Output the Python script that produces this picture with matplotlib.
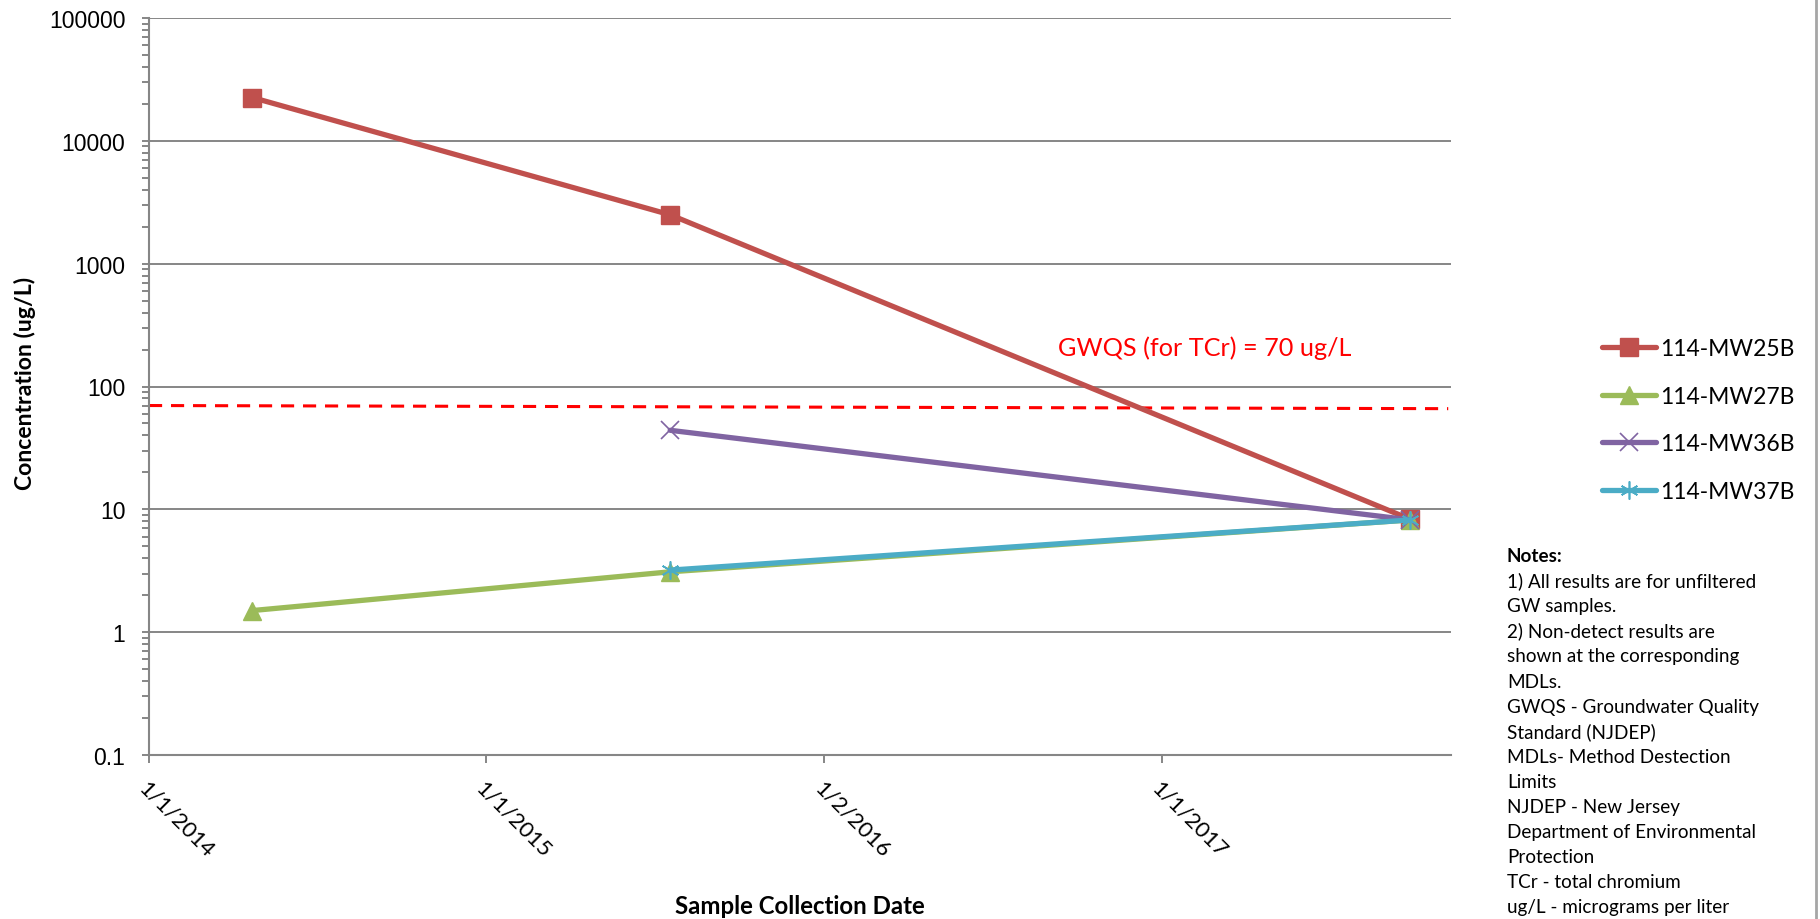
import numpy as np
import pandas as pd
import matplotlib
matplotlib.use("Agg")
import matplotlib.pyplot as plt
import matplotlib.dates as mdates
from matplotlib.lines import Line2D

## data
dates_a = pd.to_datetime(["2014-04-23", "2015-07-19", "2017-09-27"])
dates_b = pd.to_datetime(["2015-07-19", "2017-09-27"])
mw25b = [22500, 2500, 8.3]
mw27b = [1.5, 3.1, 8.2]
mw36b = [44, 8.2]
mw37b = [3.2, 8.2]
labels = ["114-MW25B", "114-MW27B", "114-MW36B", "114-MW37B"]

gwqs_dates = pd.to_datetime(["2014-01-01", "2017-11-07"])
gwqs_vals = [70, 66]

xtick_dates = pd.to_datetime(["2014-01-01", "2015-01-01", "2016-01-02", "2017-01-01"])
xtick_labels = ["1/1/2014", "1/1/2015", "1/2/2016", "1/1/2017"]
ytick_vals = [0.1, 1, 10, 100, 1000, 10000, 100000]
ytick_labels = ["0.1", "1", "10", "100", "1000", "10000", "100000"]
xlim = pd.to_datetime(["2014-01-01", "2017-11-10"])

notes_title = "Notes:"
notes_lines = ["1) All results are for unfiltered", "GW samples.",
               "2) Non-detect results are", "shown at the corresponding", "MDLs.",
               "GWQS - Groundwater Quality", "Standard (NJDEP)",
               "MDLs- Method Destection", "Limits",
               "NJDEP - New Jersey", "Department of Environmental", "Protection",
               "TCr - total chromium", "ug/L - micrograms per liter"]

W, H = 1820, 920
grey = "#868686"
txtfont = "Lato"

fig = plt.figure(figsize=(W / 100, H / 100), dpi=100)
ax = fig.add_axes([149 / W, 1 - 756 / H, (1451 - 149) / W, (756 - 19) / H])

ax.plot(gwqs_dates, gwqs_vals, color="#FF0000", lw=2.2, dashes=(4.3, 2.9), zorder=2)

lw = 3.8
ax.plot(dates_a, mw25b, color="#C0504D", lw=lw, marker="s", ms=13.5,
        solid_capstyle="round", label=labels[0], zorder=3)
ax.plot(dates_a, mw27b, color="#9BBB59", lw=lw, marker="^", ms=13.5,
        solid_capstyle="round", label=labels[1], zorder=4)
ax.plot(dates_b, mw36b, color="#8064A2", lw=lw, marker="x", ms=13.5, mew=1.2,
        solid_capstyle="round", label=labels[2], zorder=5)
ax.plot(dates_b, mw37b, color="#4BACC6", lw=lw, marker=(6, 2, 0), ms=13, mew=1.2,
        solid_capstyle="round", label=labels[3], zorder=6)

ax.set_yscale("log")
ax.set_ylim(0.1, 100000)
ax.set_xlim(xlim[0], xlim[1])
ax.set_yticks(ytick_vals)
ax.set_yticklabels(ytick_labels, family="Liberation Sans", fontsize=16.5)
ax.yaxis.set_minor_locator(matplotlib.ticker.LogLocator(base=10, subs=np.arange(2, 10)))
ax.yaxis.set_minor_formatter(matplotlib.ticker.NullFormatter())
ax.set_xticks(mdates.date2num(xtick_dates))
ax.set_xticklabels(xtick_labels, family=txtfont, fontsize=16, rotation=-45,
                   ha="left", va="top", rotation_mode="anchor")

ax.grid(axis="y", which="major", color=grey, lw=1.4)
ax.set_axisbelow(True)
for s in ["top", "right"]:
    ax.spines[s].set_visible(False)
for s in ["left", "bottom"]:
    ax.spines[s].set_color(grey)
    ax.spines[s].set_linewidth(1.5)
ax.tick_params(axis="y", which="both", direction="out", length=5, width=1.4,
               color=grey, pad=12)
ax.tick_params(axis="x", which="major", direction="out", length=6, width=1.4,
               color=grey, pad=10)

ax.legend(loc="center left", bbox_to_anchor=(1602 / W, 1 - 421 / H),
          bbox_transform=fig.transFigure, frameon=False, numpoints=1,
          prop={"family": txtfont, "size": 16.5}, handlelength=2.35,
          handletextpad=0.2, labelspacing=1.15, borderpad=0, borderaxespad=0)

fig.text(1058 / W, 1 - 356 / H, "GWQS (for TCr) = 70 ug/L", color="#FF0000",
         family=txtfont, fontsize=18.2, ha="left", va="baseline")
fig.text(25 / W, 1 - 383 / H, "Concentration (ug/L)", rotation=90, family=txtfont,
         fontweight="bold", fontsize=16.6, ha="center", va="center")
fig.text(800 / W, 1 - 907 / H, "Sample Collection Date", family=txtfont,
         fontweight="bold", fontsize=17.3, ha="center", va="center")

# notes block, one line every ~25 px
pitch = 25.1
y0 = 562
fig.text(1507 / W, 1 - y0 / H, notes_title, family=txtfont, fontweight="bold",
         fontsize=13.6, ha="left", va="baseline")
for i, line in enumerate(notes_lines):
    fig.text(1507 / W, 1 - (y0 + (i + 1) * pitch) / H, line, family=txtfont,
             fontsize=13.6, ha="left", va="baseline")

fig.add_artist(Line2D([1816 / W, 1816 / W], [0, 1], color="#a6a6a6", lw=2))

fig.savefig("out.png", dpi=100)
